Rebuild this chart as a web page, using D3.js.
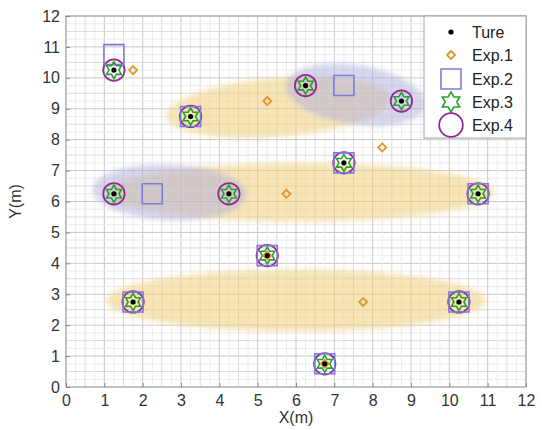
<!DOCTYPE html>
<html>
<head>
<meta charset="utf-8">
<script src="https://cdn.jsdelivr.net/npm/d3@7"></script>
<style>
  html, body { margin: 0; padding: 0; background: #fff; }
  text { font-family: "Liberation Sans", Arial, sans-serif; }
</style>
</head>
<body>
<svg id="chart" width="542" height="430"></svg>
<script>
// Ground-truth node positions (m)
const trueX = [1.25, 3.25, 6.25, 8.75, 7.25, 1.25, 4.25, 10.75, 5.25, 1.75, 10.25, 6.75];
const trueY = [10.25, 8.75, 9.75, 9.25, 7.25, 6.25, 6.25, 6.25, 4.25, 2.75, 2.75, 0.75];

// Estimated positions for each experiment
const exp1X = [1.75, 5.25, 8.25, 5.75, 7.75, 5.25, 6.75];
const exp1Y = [10.25, 9.25, 7.75, 6.25, 2.75, 4.25, 0.75];

const exp2X = [1.25, 3.25, 7.25, 7.25, 2.25, 10.75, 5.25, 1.75, 10.25, 6.75];
const exp2Y = [10.75, 8.75, 9.75, 7.25, 6.25, 6.25, 4.25, 2.75, 2.75, 0.75];

const exp3X = trueX.slice();
const exp3Y = trueY.slice();
const exp4X = trueX.slice();
const exp4Y = trueY.slice();

// Shaded ambiguity regions: centre, semi-axes (m) and tilt (degrees)
const regionGroup = ["Exp.1", "Exp.1", "Exp.1", "Exp.2", "Exp.2"];
const regionCx    = [5.55, 6.1, 6.0, 7.55, 2.7];
const regionCy    = [9.05, 6.3, 2.8, 9.45, 6.3];
const regionRx    = [2.95, 5.05, 4.95, 1.85, 2.0];
const regionRy    = [0.95, 0.95, 1.0, 0.95, 0.9];
const regionTilt  = [6, 0, 0, -12, -3];

const ticks = [0, 1, 2, 3, 4, 5, 6, 7, 8, 9, 10, 11, 12];
const legendLabels = ["Ture", "Exp.1", "Exp.2", "Exp.3", "Exp.4"];

const svg = d3.select("#chart");
const margin = { left: 66, right: 16, top: 16, bottom: 43 };
const W = 542, H = 430;

const x = d3.scaleLinear().domain([0, 12]).range([margin.left, W - margin.right]);
const y = d3.scaleLinear().domain([0, 12]).range([H - margin.bottom, margin.top]);

const defs = svg.append("defs");
defs.append("filter").attr("id", "soft")
  .attr("x", "-20%").attr("y", "-40%").attr("width", "140%").attr("height", "180%")
  .append("feGaussianBlur").attr("stdDeviation", 2.5);
defs.append("clipPath").attr("id", "plotClip")
  .append("rect")
  .attr("x", x(0)).attr("y", y(12))
  .attr("width", x(12) - x(0)).attr("height", y(0) - y(12));

// Grid: fine, half-unit and unit lines
const grid = svg.append("g");
const fine = d3.range(0, 12.001, 0.25);
fine.forEach(v => {
  const major = Math.abs(v - Math.round(v)) < 1e-6;
  const half = !major && Math.abs(v * 2 - Math.round(v * 2)) < 1e-6;
  const col = major ? "#c8c8c8" : half ? "#dadada" : "#ececec";
  grid.append("line").attr("x1", x(v)).attr("x2", x(v)).attr("y1", y(0)).attr("y2", y(12))
    .attr("stroke", col).attr("stroke-width", 1);
  grid.append("line").attr("x1", x(0)).attr("x2", x(12)).attr("y1", y(v)).attr("y2", y(v))
    .attr("stroke", col).attr("stroke-width", 1);
});

// Regions
const regionColor = { "Exp.1": "#f0cf7e", "Exp.2": "#aeaedc" };
const regionOpacity = { "Exp.1": 0.55, "Exp.2": 0.5 };
const regions = regionCx.map((cx, i) => ({
  g: regionGroup[i], cx, cy: regionCy[i], rx: regionRx[i], ry: regionRy[i], t: regionTilt[i]
}));
const ellipsePath = r => {
  const th = r.t * Math.PI / 180;
  const pts = d3.range(0, 2 * Math.PI, Math.PI / 60).map(a => {
    const ex = r.cx + r.rx * Math.cos(a) * Math.cos(th) - r.ry * Math.sin(a) * Math.sin(th);
    const ey = r.cy + r.rx * Math.cos(a) * Math.sin(th) + r.ry * Math.sin(a) * Math.cos(th);
    return [x(ex), y(ey)];
  });
  return d3.line().curve(d3.curveLinearClosed)(pts);
};
svg.append("g").attr("clip-path", "url(#plotClip)")
  .selectAll("path").data(regions).join("path")
  .attr("d", ellipsePath)
  .attr("fill", d => regionColor[d.g])
  .attr("fill-opacity", d => regionOpacity[d.g])
  .attr("filter", "url(#soft)");

// Axes frame
svg.append("rect")
  .attr("x", x(0)).attr("y", y(12))
  .attr("width", x(12) - x(0)).attr("height", y(0) - y(12))
  .attr("fill", "none").attr("stroke", "#a0a0a0").attr("stroke-width", 1);

const xAxis = svg.append("g").attr("transform", `translate(0,${y(0)})`)
  .call(d3.axisBottom(x).tickValues(ticks).tickSize(-4).tickPadding(8).tickFormat(d3.format("d")));
const yAxis = svg.append("g").attr("transform", `translate(${x(0)},0)`)
  .call(d3.axisLeft(y).tickValues(ticks).tickSize(-4).tickPadding(6).tickFormat(d3.format("d")));
[xAxis, yAxis].forEach(a => {
  a.select(".domain").remove();
  a.selectAll(".tick line").attr("stroke", "#888");
  a.selectAll("text").attr("font-size", 16).attr("fill", "#333");
});

svg.append("text").attr("x", (x(0) + x(12)) / 2).attr("y", 423)
  .attr("text-anchor", "middle").attr("font-size", 16).attr("fill", "#333").text("X(m)");
svg.append("text").attr("transform", `translate(21,${(y(0) + y(12)) / 2}) rotate(-90)`)
  .attr("text-anchor", "middle").attr("font-size", 16).attr("fill", "#333").text("Y(m)");

// Marker shapes
const hexagram = {
  draw(ctx, size) {
    const R = Math.sqrt(size / 1.5);
    const r = R / Math.sqrt(3);
    for (let k = 0; k < 12; k++) {
      const a = -Math.PI / 2 + k * Math.PI / 6;
      const rad = k % 2 === 0 ? R : r;
      const px = rad * Math.cos(a), py = rad * Math.sin(a);
      if (k === 0) ctx.moveTo(px, py); else ctx.lineTo(px, py);
    }
    ctx.closePath();
  }
};
// Square standing on a corner
const rhombus = {
  draw(ctx, size) {
    const h = Math.sqrt(size / 2);
    ctx.moveTo(0, -h); ctx.lineTo(h, 0); ctx.lineTo(0, h); ctx.lineTo(-h, 0); ctx.closePath();
  }
};

const styles = {
  "Exp.2": { shape: d3.symbolSquare, size: 400, stroke: "#7b7bdc", width: 1.6 },
  "Exp.3": { shape: hexagram, size: 110, stroke: "#2ca02c", width: 1.6 },
  "Exp.4": { shape: d3.symbolCircle, size: 360, stroke: "#952a95", width: 1.8 },
  "Exp.1": { shape: rhombus, size: 32, stroke: "#e0962a", width: 1.8 }
};

const drawSeries = (xs, ys, key) => {
  const s = styles[key];
  svg.append("g").selectAll("path").data(xs.map((v, i) => [v, ys[i]])).join("path")
    .attr("transform", d => `translate(${x(d[0])},${y(d[1])})`)
    .attr("d", d3.symbol().type(s.shape).size(s.size))
    .attr("fill", "none").attr("stroke", s.stroke).attr("stroke-width", s.width);
};
drawSeries(exp4X, exp4Y, "Exp.4");
drawSeries(exp2X, exp2Y, "Exp.2");
drawSeries(exp3X, exp3Y, "Exp.3");
drawSeries(exp1X, exp1Y, "Exp.1");

svg.append("g").selectAll("circle").data(trueX.map((v, i) => [v, trueY[i]])).join("circle")
  .attr("cx", d => x(d[0])).attr("cy", d => y(d[1])).attr("r", 2.6).attr("fill", "#000");

// Legend
const lg = svg.append("g");
lg.append("rect").attr("x", 424).attr("y", y(12)).attr("width", x(12) - 424).attr("height", 122)
  .attr("fill", "#fff").attr("stroke", "#a0a0a0");
const rowY = [32, 55, 79, 102, 125];
legendLabels.forEach((lab, i) => {
  const cy = rowY[i], cx = 451;
  if (lab === "Ture") {
    lg.append("circle").attr("cx", cx).attr("cy", cy).attr("r", 2.6).attr("fill", "#000");
  } else {
    const s = styles[lab];
    const sz = lab === "Exp.4" ? 440 : lab === "Exp.3" ? 150 : s.size;
    lg.append("path").attr("transform", `translate(${cx},${cy})`)
      .attr("d", d3.symbol().type(s.shape).size(sz))
      .attr("fill", "none").attr("stroke", s.stroke).attr("stroke-width", s.width);
  }
  lg.append("text").attr("x", 472).attr("y", cy + 5.5).attr("font-size", 16).attr("fill", "#222").text(lab);
});
</script>
</body>
</html>
